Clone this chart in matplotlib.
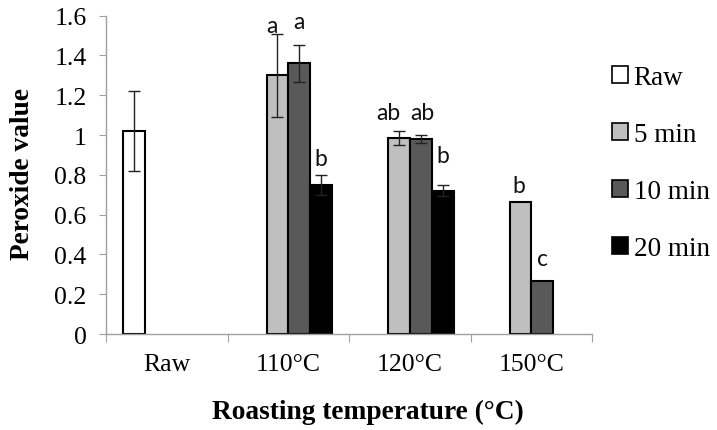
import matplotlib
matplotlib.use('Agg')
import matplotlib.pyplot as plt
import numpy as np
from matplotlib.patches import Patch

plt.rcParams['font.family'] = ['Liberation Serif', 'DejaVu Serif']

groups = ['Raw', '110°C', '120°C', '150°C']
series = ['Raw', '5 min', '10 min', '20 min']

# peroxide value means and error (nan = no bar)
raw_val = [1.02, np.nan, np.nan, np.nan]
raw_err = [0.20, 0, 0, 0]
min5_val = [np.nan, 1.30, 0.985, 0.665]
min5_err = [0, 0.21, 0.035, 0]
min10_val = [np.nan, 1.36, 0.98, 0.265]
min10_err = [0, 0.095, 0.022, 0]
min20_val = [np.nan, 0.75, 0.72, np.nan]
min20_err = [0, 0.05, 0.028, 0]

# significance letters
raw_sig = ['', '', '', '']
min5_sig = ['', 'a', 'ab', 'b']
min10_sig = ['', 'a', 'ab', 'c']
min20_sig = ['', 'b', 'b', '']

values = [raw_val, min5_val, min10_val, min20_val]
errors = [raw_err, min5_err, min10_err, min20_err]
sigs = [raw_sig, min5_sig, min10_sig, min20_sig]
colors = ['white', '#bfbfbf', '#595959', 'black']
# vertical gap (points) between error bar top and letter
sig_pad = [[0, 0, 0, 0], [0, 1.5, 8.5, 7], [0, 12, 11.5, 11.5], [0, 7, 16.5, 0]]
# small horizontal nudge (points) for letters
sig_dx = [[0, 0, 0, 0], [0, -4, -8, -1], [0, 0, 1, 0], [0, 0, 0, 0]]

fig = plt.figure(figsize=(7.17, 4.31), dpi=100)
ax = fig.add_axes([0.148, 0.2227, 0.678, 0.7386])

x = np.arange(len(groups))
w = 1 / (4 + 1.55)
for j in range(len(series)):
    v = np.array(values[j], dtype=float)
    e = np.array(errors[j], dtype=float)
    pos = x + (j - 1.5) * w
    ok = np.isfinite(v)
    ax.bar(pos[ok], v[ok], width=w, color=colors[j], edgecolor='black',
           linewidth=1.5, zorder=2)
    has_err = ok & (e > 0)
    ax.errorbar(pos[has_err], v[has_err], yerr=e[has_err], fmt='none',
                ecolor='#222222', elinewidth=1, capsize=4, capthick=1, zorder=3)
    for i in range(len(groups)):
        if sigs[j][i]:
            top = v[i] + (e[i] if e[i] > 0 else 0)
            ax.annotate(sigs[j][i], xy=(pos[i], top),
                        xytext=(sig_dx[j][i], sig_pad[j][i]),
                        textcoords='offset points', ha='center', va='baseline',
                        fontsize=16.5, family='Lato', color='#111111')

ax.set_xlim(-0.5, 3.5)
ax.set_ylim(0, 1.6)
ax.set_yticks(np.arange(0, 1.61, 0.2))
ax.set_yticklabels(['0', '0.2', '0.4', '0.6', '0.8', '1', '1.2', '1.4', '1.6'])
ax.set_xticks(np.arange(-0.5, 3.6, 1))
ax.set_xticklabels([])
ax.set_xticks(x, minor=True)
ax.set_xticklabels(groups, minor=True)
ax.tick_params(axis='y', length=5, color='#a0a0a0', labelsize=18.5, pad=9)
ax.tick_params(axis='x', which='major', length=6, color='#a0a0a0')
ax.tick_params(axis='x', which='minor', length=0, labelsize=18.5, pad=13.5)

for s in ['top', 'right']:
    ax.spines[s].set_visible(False)
for s in ['left', 'bottom']:
    ax.spines[s].set_color('#a0a0a0')
    ax.spines[s].set_linewidth(1)

fig.text(23 / 717, 1 - 174 / 431, 'Peroxide value', rotation=90, ha='center',
         va='center', fontsize=19.7, fontweight='bold')
fig.text(368 / 717, 1 - 412 / 431, 'Roasting temperature (°C)', ha='center',
         va='center', fontsize=19.7, fontweight='bold')

handles = [Patch(facecolor=c, edgecolor='black', linewidth=1.2) for c in colors]
fig.legend(handles, series, loc='upper left', bbox_to_anchor=(612 / 717, 1 - 66 / 431),
           frameon=False, fontsize=19.5, handlelength=0.6, handleheight=0.6,
           handletextpad=0.2, labelspacing=1.18, borderpad=0, borderaxespad=0)

fig.savefig('out.png', dpi=100)
